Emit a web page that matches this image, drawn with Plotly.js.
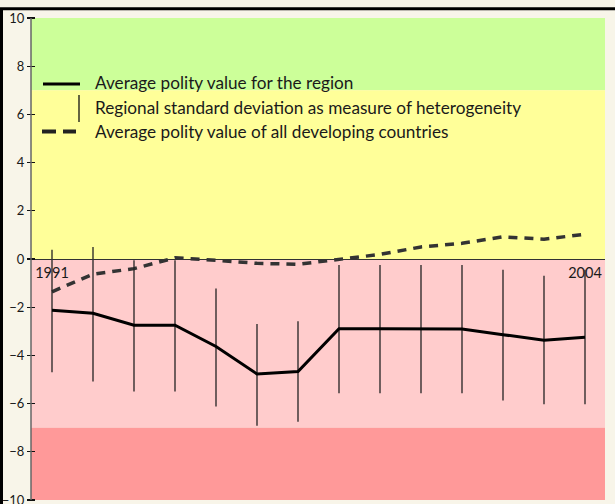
<!DOCTYPE html>
<html>
<head>
<meta charset="utf-8">
<script src="https://cdn.plot.ly/plotly-3.0.1.min.js"></script>
<style>
html,body{margin:0;padding:0;background:#f8f5e9;overflow:hidden;}
#chart{width:615px;height:504px;}
</style>
</head>
<body>
<div id="chart"></div>
<script>
// ---- data ----
const years = [1991,1992,1993,1994,1995,1996,1997,1998,1999,2000,2001,2002,2003,2004];
const regionMean = [-2.13,-2.25,-2.75,-2.75,-3.63,-4.77,-4.67,-2.89,-2.89,-2.89,-2.9,-3.14,-3.37,-3.25];
const sdUpper = [0.38,0.5,-0.05,-0.05,-1.22,-2.7,-2.58,-0.25,-0.25,-0.25,-0.25,-0.45,-0.7,-0.45];
const sdLower = [-4.7,-5.08,-5.5,-5.5,-6.12,-6.92,-6.75,-5.57,-5.57,-5.57,-5.57,-5.87,-6.03,-6.03];
const developingMean = [-1.36,-0.63,-0.4,0.05,-0.05,-0.18,-0.22,0.0,0.19,0.5,0.65,0.92,0.82,1.03];
const yTicks = [-10,-8,-6,-4,-2,0,2,4,6,8,10];
const yearLabels = [1991, 2004];
const bandEdges = [10, 7, 0, -7, -10];
const bandColors = ['#ccff99','#ffff99','#ffcccc','#ff9999'];
const legendLabels = [
  'Average polity value for the region',
  'Regional standard deviation as measure of heterogeneity',
  'Average polity value of all developing countries'
];

// ---- layout helpers ----
const W = 615, H = 504, ML = 31, MR = 10, MT = 18, MB = 4;
const PW = W - ML - MR, PH = H - MT - MB;
const px = x => (x - ML) / PW;         // pixel -> paper x
const py = y => (H - MB - y) / PH;     // pixel -> paper y
const FONT = 'Lato, "Open Sans", sans-serif';
const BG = '#f8f5e9';

const shapes = [];
for (let i = 0; i < bandColors.length; i++) {
  shapes.push({type:'rect', xref:'x domain', yref:'y', x0:0, x1:1,
    y0:bandEdges[i+1], y1:bandEdges[i], fillcolor:bandColors[i],
    line:{width:0}, layer:'below'});
}
// keep the right margin strip in page colour
shapes.push({type:'rect', xref:'paper', yref:'paper', x0:1, x1:px(W + 2), y0:py(H + 2), y1:py(10.5),
  fillcolor:BG, line:{width:0}, layer:'above'});
// y axis line at the plot's left edge
shapes.push({type:'line', xref:'paper', yref:'paper', x0:0, x1:0, y0:0, y1:1, line:{color:'#666', width:1.5}});
// frame lines
shapes.push({type:'line', xref:'paper', yref:'paper', x0:px(0), x1:px(W), y0:py(8.7), y1:py(8.7), line:{color:'#000', width:3}});
shapes.push({type:'line', xref:'paper', yref:'paper', x0:px(1.5), x1:px(1.5), y0:py(8.7), y1:py(H), line:{color:'#000', width:3}});
// legend symbols
shapes.push({type:'line', xref:'paper', yref:'paper', x0:px(43), x1:px(80), y0:py(84), y1:py(84), line:{color:'#000', width:3}});
shapes.push({type:'line', xref:'paper', yref:'paper', x0:px(79), x1:px(79), y0:py(95), y1:py(122), line:{color:'#111', width:1.3}});
shapes.push({type:'line', xref:'paper', yref:'paper', x0:px(42), x1:px(76), y0:py(131.5), y1:py(131.5), line:{color:'#222', width:4, dash:'14px,7px'}});

const annotations = legendLabels.map((t, i) => ({
  xref:'paper', yref:'paper', x:px(93), y:py([83, 107, 131][i]),
  xanchor:'left', yanchor:'middle', text:t, showarrow:false,
  font:{family:FONT, size:17.2, color:'#1a1a1a'}
}));

const traces = [
  {x:years, y:developingMean, type:'scatter', mode:'lines',
   line:{color:'#333', width:3.5, dash:'9px,7px'}, hoverinfo:'skip'},
  {x:years, y:regionMean, type:'scatter', mode:'lines',
   line:{color:'#000', width:3},
   error_y:{type:'data', symmetric:false,
     array: sdUpper.map((u,i)=>u-regionMean[i]),
     arrayminus: sdLower.map((l,i)=>regionMean[i]-l),
     width:0, thickness:1.3, color:'#222'}}
];

const layout = {
  width:W, height:H,
  margin:{l:ML, r:MR, t:MT, b:MB, pad:0},
  paper_bgcolor:BG, plot_bgcolor:'rgba(0,0,0,0)',
  showlegend:false,
  font:{family:FONT, color:'#1a1a1a'},
  xaxis:{range:[1991 - 21/41, 2004 + 20/41], anchor:'free', position:0.5,
    tickvals:yearLabels, ticktext:yearLabels.map(String), ticks:'',
    showline:true, linecolor:'#333', linewidth:1.3, showgrid:false, zeroline:false,
    tickfont:{family:FONT, size:14.5, color:'#1a1a1a'}},
  yaxis:{range:[-10,10], tickvals:yTicks, ticks:'outside', ticklen:8, tickwidth:1.3,
    tickcolor:'#111', showline:false,
    showgrid:false, zeroline:false, anchor:'free', position:px(35),
    ticklabeloverflow:'allow',
    tickfont:{family:FONT, size:13, color:'#1a1a1a'}},
  shapes:shapes,
  annotations:annotations
};

Plotly.newPlot('chart', traces, layout, {displayModeBar:false, staticPlot:true});
</script>
</body>
</html>
